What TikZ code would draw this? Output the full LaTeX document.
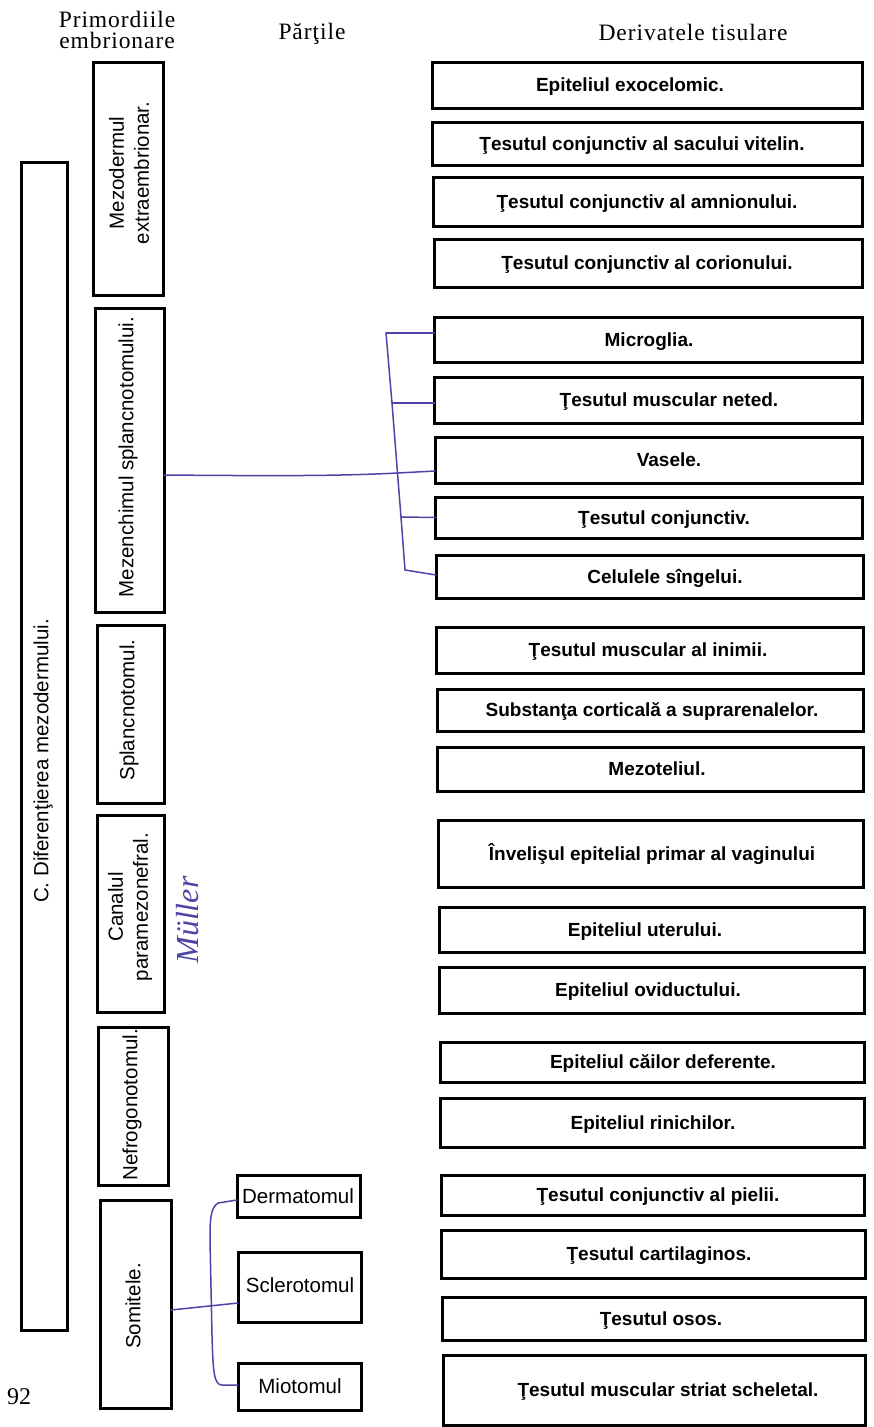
\documentclass[tikz,border=0pt]{standalone}
\usepackage{fontspec}
\setmainfont{Liberation Serif}
\setsansfont{Liberation Sans}
\newfontfamily\hdrfont{Liberation Serif}[LetterSpace=4]
\definecolor{inkblue}{RGB}{78,68,168}
\tikzset{
 boxst/.style={draw=black, line width=3pt, inner sep=0pt, outer sep=0pt},
 rtext/.style={font=\sffamily\bfseries\fontsize{19}{21}\selectfont, inner sep=0pt, anchor=base},
 ltext/.style={font=\sffamily\fontsize{20.5}{25}\selectfont, inner sep=0pt, rotate=90, align=center},
 stext/.style={font=\sffamily\fontsize{20.5}{25}\selectfont, inner sep=0pt},
 hdr/.style={font=\hdrfont\fontsize{23.5}{26}\selectfont, inner sep=0pt, anchor=base},
 ink/.style={draw=inkblue, line width=1.5pt, line cap=round, line join=round},
}
\newcommand\MkBox[5]{\node[boxst, minimum width={(#4-#2)*1pt}, minimum height={(#5-#3)*1pt}] (#1) at ({(#2+#4)/2},{(#3+#5)/2}) {};}
\newcommand\RBox[7]{\MkBox{#1}{#2}{#3}{#4}{#5}\node[rtext] (#1t) at (#6,{(#3+#5)/2+6.8}) {#7};}
\begin{document}
\begin{tikzpicture}[x=1pt,y=-1pt]
\useasboundingbox (0,0) rectangle (873,1427);
\fill[white] (0,0) rectangle (873,1427);

% headers
\node[hdr] (h1a) at (117,27) {Primordiile};
\node[hdr] (h1b) at (117,48) {embrionare};
\node[hdr] (h2) at (312,39) {Părţile};
\node[hdr] (h3) at (693,40) {Derivatele tisulare};

% left big box
\MkBox{big}{21}{162}{67}{1330}
\node[ltext] (bigt) at (43,761) {C. Diferenţierea mezodermului.};

% primordia column
\MkBox{mexe}{93}{62}{163}{295}
\node[ltext] (mexet) at (129,173) {Mezodermul\\extraembrionar.};
\MkBox{mez}{95}{308}{164}{612}
\node[ltext] (mezt) at (128,457) {Mezenchimul splancnotomului.};
\MkBox{spl}{97}{625}{164}{803}
\node[ltext] (splt) at (129,710) {Splancnotomul.};
\MkBox{can}{97}{815}{164}{1012}
\node[ltext] (cant) at (130,907) {Canalul\\paramezonefral.};
\MkBox{nef}{98}{1027}{168}{1185}
\node[ltext] (neft) at (132,1105) {Nefrogonotomul.};
\MkBox{som}{100}{1200}{171}{1408}
\node[ltext] (somt) at (133,1306) {Somitele.};

% somite parts
\MkBox{derm}{237}{1175}{360}{1217}
\node[stext] (dermt) at (298,1196) {Dermatomul};
\MkBox{scl}{238}{1252}{361}{1322}
\node[stext] (sclt) at (300,1285) {Sclerotomul};
\MkBox{mio}{238}{1363}{361}{1410}
\node[stext] (miot) at (300,1386) {Miotomul};

% derivatives
\RBox{b1}{432}{62}{862}{108}{630}{Epiteliul exocelomic.}
\RBox{b2}{432.5}{122}{862}{165}{642}{Ţesutul conjunctiv al sacului vitelin.}
\RBox{b3}{433}{177}{862}{226}{647}{Ţesutul conjunctiv al amnionului.}
\RBox{b4}{434}{239}{862}{287}{647}{Ţesutul conjunctiv al corionului.}
\RBox{b5}{434}{317}{862}{362}{649}{Microglia.}
\RBox{b6}{434.6}{377}{862.5}{423}{669}{Ţesutul muscular neted.}
\RBox{b7}{435}{437}{862.5}{483}{669}{Vasele.}
\RBox{b8}{435.8}{497}{862.5}{538}{664}{Ţesutul conjunctiv.}
\RBox{b9}{436}{555}{863}{598}{665}{Celulele sîngelui.}
\RBox{b10}{436.8}{627}{863}{673}{648}{Ţesutul muscular al inimii.}
\RBox{b11}{437.3}{689}{863}{731}{652}{Substanţa corticală a suprarenalelor.}
\RBox{b12}{437.8}{747}{863.5}{791}{657}{Mezoteliul.}
\RBox{b13}{438.4}{820}{863.5}{887}{652}{Învelişul epitelial primar al vaginului}
\RBox{b14}{439}{907}{864}{952}{645}{Epiteliul uterului.}
\RBox{b15}{439.7}{967}{864}{1013}{648}{Epiteliul oviductului.}
\RBox{b16}{440.4}{1042}{864}{1082}{663}{Epiteliul căilor deferente.}
\RBox{b17}{440.8}{1098}{864.5}{1147}{653}{Epiteliul rinichilor.}
\RBox{b18}{441.4}{1175}{864.5}{1215}{658}{Ţesutul conjunctiv al pielii.}
\RBox{b19}{441.6}{1230}{865}{1278}{659}{Ţesutul cartilaginos.}
\RBox{b20}{442.5}{1297}{865}{1340}{661}{Ţesutul osos.}
\RBox{b21}{443}{1355}{865}{1425}{668}{Ţesutul muscular striat scheletal.}

% page number
\node[font=\fontsize{24}{26}\selectfont, inner sep=0pt, anchor=base] (pg) at (19,1404) {92};

% handwritten note
\node[font=\itshape\fontsize{32}{34}\selectfont, text=inkblue, rotate=90, inner sep=0pt] (hand) at (188,920) {Müller};

% blue connectors: mesenchyme
\coordinate (sA) at (386,333);
\coordinate (sB) at (392,403);
\coordinate (sC) at (397.5,473);
\coordinate (sD) at (401,517);
\coordinate (sE) at (405,570);
\draw[ink] (sA) -- (sB) -- (sC) -- (sD) -- (sE) -- ([yshift=1.5pt]b9.west);
\draw[ink] (sA) -- ([yshift=6.5pt]b5.west);
\draw[ink] (sB) -- ([yshift=-3pt]b6.west);
\draw[ink] ([yshift=-15pt]mez.east) .. controls (280,476) and (340,476) .. (sC) -- ([yshift=-11pt]b7.west);
\draw[ink] (sD) -- (b8.west);

% blue connectors: somites
\coordinate (k1) at (218,1203);
\coordinate (k2) at (210,1240);
\coordinate (k3) at (212,1335);
\coordinate (k4) at (222,1385);
\draw[ink] ([yshift=-4pt]derm.west) -- (k1) .. controls (210,1208) and (210,1222) .. (k2) -- (k3) .. controls (213,1372) and (214,1385) .. (k4) -- ([yshift=1.5pt]mio.west);
\draw[ink] ([yshift=-6pt]som.east) -- ([yshift=-16pt]scl.west);
\end{tikzpicture}
\end{document}
